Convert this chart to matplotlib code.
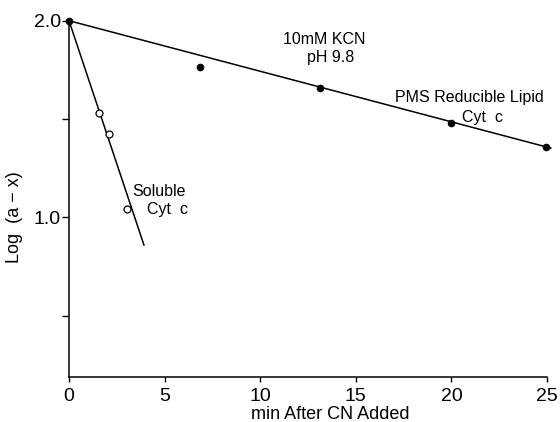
import matplotlib
matplotlib.use("Agg")
import matplotlib.pyplot as plt

# Data
lipid_x = [0.0, 6.85, 13.15, 20.0, 24.95]
lipid_y = [2.0, 1.765, 1.656, 1.478, 1.36]
lipid_fit_x = [0.0, 25.2]
lipid_fit_y = [2.0, 1.352]

soluble_x = [1.58, 2.09, 3.05]
soluble_y = [1.532, 1.424, 1.04]
soluble_fit_x = [0.0, 3.92]
soluble_fit_y = [2.0, 0.859]

xticks = [0, 5, 10, 15, 20, 25]
xticklabels = ["0", "5", "10", "15", "20", "25"]
yticks = [0.5, 1.0, 1.5, 2.0]
yticklabels = ["", "1.0", "", "2.0"]

plt.rcParams['font.family'] = ['Liberation Sans', 'DejaVu Sans']

fig = plt.figure(figsize=(5.6, 4.22), dpi=100)
ax = fig.add_axes([69/560, 1-377/422, (547-69)/560, (377-20.7)/422])

ax.plot(lipid_fit_x, lipid_fit_y, color='black', lw=1.1, clip_on=False)
ax.plot(soluble_fit_x, soluble_fit_y, color='black', lw=1.1, clip_on=False)
ax.plot(lipid_x, lipid_y, 'o', color='black', ms=4.5, clip_on=False, zorder=5)
ax.plot(soluble_x, soluble_y, 'o', mfc='white', mec='black', mew=0.9, ms=5, clip_on=False, zorder=5)

ax.set_xlim(0, 25)
ax.set_ylim(0.188, 2.0)
ax.set_xticks(xticks)
ax.set_xticklabels(xticklabels)
ax.set_yticks(yticks)
ax.set_yticklabels(yticklabels)
for s in ['top', 'right']:
    ax.spines[s].set_visible(False)
for s in ['left', 'bottom']:
    ax.spines[s].set_linewidth(1.1)
ax.tick_params(axis='x', direction='out', length=3.8, width=1.0, labelsize=14, pad=4, colors='black')
ax.tick_params(axis='y', direction='out', length=5, width=1.0, labelsize=14, pad=1, colors='black')

ax.set_xlabel("min After CN Added", fontsize=13)
ax.xaxis.set_label_coords(0.546, -0.08)
ax.set_ylabel("Log  (a \u2212 x)", fontsize=13)
ax.yaxis.set_label_coords(-0.096, 0.45)

fs = 11.5
ax.text(13.34, 1.905, "10mM KCN", fontsize=fs, ha='center', va='center')
ax.text(13.7, 1.813, "pH 9.8", fontsize=fs, ha='center', va='center')
ax.text(20.95, 1.607, "PMS Reducible Lipid", fontsize=fs, ha='center', va='center')
ax.text(21.65, 1.51, "Cyt  c", fontsize=fs, ha='center', va='center')
ax.text(3.3, 1.13, "Soluble", fontsize=fs, ha='left', va='center')
ax.text(4.08, 1.042, "Cyt  c", fontsize=fs, ha='left', va='center')

fig.savefig("out.png", dpi=100)
